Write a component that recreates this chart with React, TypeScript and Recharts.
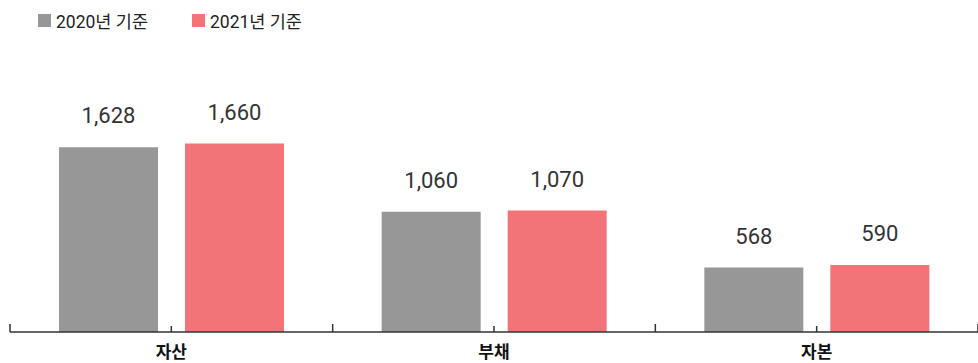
import { BarChart, Bar, XAxis, YAxis, LabelList } from 'recharts'

const categories = ['자산', '부채', '자본']
const values2020 = [1628, 1060, 568]
const values2021 = [1660, 1070, 590]
const seriesNames = ['2020년 기준', '2021년 기준']
const seriesColors = ['#979797', '#f27479']

const data = categories.map((name, i) => ({
  name,
  y2020: values2020[i],
  y2021: values2021[i],
}))

const FONT = '"Noto Sans CJK KR", "Noto Sans", sans-serif'
const NUM_FONT = 'Roboto, "Noto Sans CJK KR", sans-serif'

const CategoryTick = (props: any) => {
  const { x, y, payload, index, visibleTicksCount } = props
  const half = payload?.offset || 161
  const isLast = index === visibleTicksCount - 1
  return (
    <g>
      <line x1={x} x2={x} y1={y} y2={y - 6} stroke="#333" strokeWidth={1.5} />
      <line x1={x - half} x2={x - half} y1={y} y2={y - 8} stroke="#333" strokeWidth={1.5} />
      {isLast && <line x1={x + half} x2={x + half} y1={y} y2={y - 8} stroke="#333" strokeWidth={1.5} />}
      <text x={x} y={y + 26} textAnchor="middle" fill="#111" fontSize={17} fontWeight={700} fontFamily={FONT}>
        {payload.value}
      </text>
    </g>
  )
}

const fmt = (v: any) => Number(v).toLocaleString('en-US')

export default function App() {
  return (
    <div style={{ position: 'absolute', left: 0, top: 0, width: 978, height: 363, background: '#fff' }}>
      <div
        style={{
          position: 'absolute',
          left: 38,
          top: 8,
          display: 'flex',
          gap: 44,
          fontFamily: NUM_FONT,
          fontSize: 17.5,
          color: '#222',
        }}
      >
        {seriesNames.map((s, i) => (
          <div key={s} style={{ display: 'flex', alignItems: 'center' }}>
            <span style={{ width: 13, height: 13, background: seriesColors[i], marginRight: 5, display: 'inline-block' }} />
            <span>{s}</span>
          </div>
        ))}
      </div>
      <BarChart
        width={978}
        height={363}
        data={data}
        margin={{ top: 105, right: 0, left: 10, bottom: 0 }}
        barCategoryGap={49}
        barGap={27}
      >
        <XAxis
          dataKey="name"
          height={31}
          tickSize={0}
          tickMargin={0}
          tickLine={false}
          axisLine={{ stroke: '#333', strokeWidth: 1.5 }}
          tick={<CategoryTick />}
          interval={0}
        />
        <YAxis hide domain={[0, 2000]} />
        <Bar dataKey="y2020" fill={seriesColors[0]} isAnimationActive={false}>
          <LabelList
            dataKey="y2020"
            position="top"
            offset={24}
            formatter={fmt}
            style={{ fill: '#333', fontSize: 22, fontFamily: NUM_FONT }}
          />
        </Bar>
        <Bar dataKey="y2021" fill={seriesColors[1]} isAnimationActive={false}>
          <LabelList
            dataKey="y2021"
            position="top"
            offset={24}
            formatter={fmt}
            style={{ fill: '#333', fontSize: 22, fontFamily: NUM_FONT }}
          />
        </Bar>
      </BarChart>
    </div>
  )
}
